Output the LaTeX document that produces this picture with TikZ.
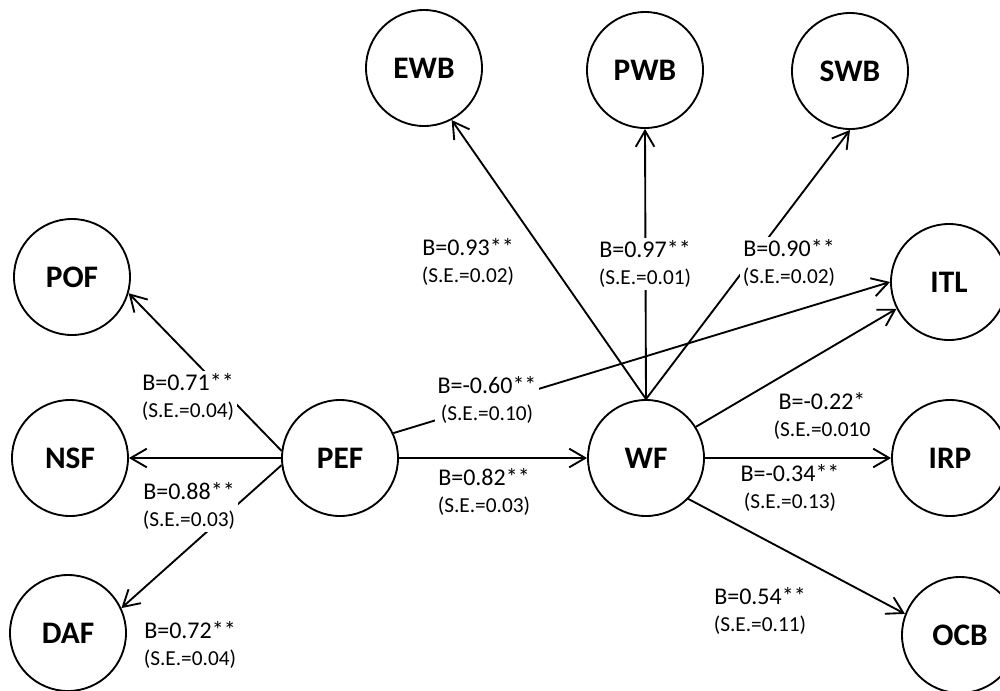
\documentclass[tikz,border=0pt]{standalone}
\usepackage{fontspec}
\setmainfont{Carlito}
\usetikzlibrary{arrows.meta}

\newcommand{\sefont}{\fontsize{16}{20}\selectfont}

\begin{document}
\begin{tikzpicture}[x=0.75pt, y=-0.75pt, line width=1.4pt,
		latent/.style={draw, circle, minimum size=87pt, inner sep=0pt, font=\fontsize{23.5}{28}\selectfont\bfseries},
		effect/.style={-{Straight Barb[length=12pt, width=14pt]}},
		coef/.style={fill=white, inner sep=2pt, align=center, font=\fontsize{18}{20}\selectfont}]
	\useasboundingbox (0,0) rectangle (1000,690);
	
	\foreach \lv/\x/\y in {POF/72/277, NSF/70/458, DAF/68/633, PEF/340/458, WF/646/458, EWB/424/68, PWB/645/70, SWB/850/71, ITL/949/282, IRP/950/458, OCB/960/635}
	{
		\node[latent] (\lv) at (\x,\y) {\lv};
	}
	
	\foreach \a/\b in {PEF.173/POF.-16, PEF.west/NSF.east, PEF.187/DAF.25, PEF.east/WF.west, PEF.25/ITL.180, WF.north/EWB.-62, WF.north/PWB.south, WF.north/SWB.south, WF.32/ITL.207, WF.east/IRP.west, WF.-44/OCB.159}
	{
		\draw[effect] (\a) -- (\b);
	}
	
	\foreach \x/\y/\bv/\se [count=\i] in {188/397/0.71**/(S.E.=0.04), 189/506/0.88**/(S.E.=0.03), 190/645/0.72**/(S.E.=0.04), 487/400/-0.60**/(S.E.=0.10), 484/492/0.82**/(S.E.=0.03), 468/262/0.93**/(S.E.=0.02), 645/264/0.97**/(S.E.=0.01), 789/263/0.90**/(S.E.=0.02), 822/416/-0.22*/(S.E.=0.010, 790/488/-0.34**/(S.E.=0.13), 760/611/0.54**/(S.E.=0.11)}
	{
		\node[coef] (coef\i) at (\x,\y) {B=\bv\\{\sefont \se}};
	}
\end{tikzpicture}
\end{document}
